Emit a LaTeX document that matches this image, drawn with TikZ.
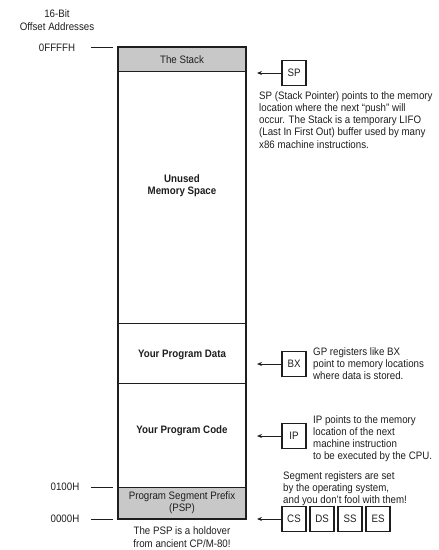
\documentclass[tikz,border=0pt]{standalone}
\usepackage{fontspec}
\setmainfont{Liberation Sans}[FakeStretch=0.9]
\usetikzlibrary{arrows.meta}
\definecolor{ink}{RGB}{30,30,30}
\definecolor{psgray}{RGB}{200,200,200}
\begin{document}
\begin{tikzpicture}[x=1pt,y=-1pt,
  every node/.style={text=ink, font=\fontsize{10.8}{12.3}\selectfont},
  seg/.style={draw=ink, line width=0.8pt, minimum width=128pt, inner sep=0pt, outer sep=0pt, rectangle},
  shaded/.style={seg, fill=psgray},
  reg/.style={draw=ink, line width=1.1pt, minimum width=24pt, minimum height=25pt, inner sep=0pt},
  ptr/.style={draw=ink, line width=0.8pt, -{Stealth[length=5pt,width=4pt]}},
  tick/.style={draw=ink, line width=0.6pt},
  note/.style={align=left, anchor=north west, inner sep=0pt},
  lbl/.style={inner sep=0pt, align=center},
  seglbl/.style={lbl, font=\fontsize{10.8}{12.3}\selectfont\bfseries}
]
\useasboundingbox (0,0) rectangle (439,550);
% memory segments
\node[shaded, minimum height=24pt] (stack) at (182,59) {};
\node[seg, minimum height=252pt] (unused) at (182,197) {};
\node[seg, minimum height=60pt] (data) at (182,353) {};
\node[seg, minimum height=104pt] (code) at (182,435) {};
\node[shaded, minimum height=32pt] (psp) at (182,503) {};
\draw[draw=ink, line width=1.5pt] (stack.north west) rectangle (psp.south east);
% segment labels
\node[lbl] (tstack) at (182,60) {The Stack};
\node[seglbl] (tunused) at (182,186) {Unused\\Memory Space};
\node[seglbl] (tdata) at (182,355) {Your Program Data};
\node[seglbl] (tcode) at (182,431) {Your Program Code};
\node[lbl] (tpsp) at (182,503) {Program Segment Prefix\\(PSP)};
\node[lbl] (tnote) at (182,537) {The PSP is a holdover\\from ancient CP/M-80!};
% addresses
\node[lbl] (hdr) at (57,20) {16-Bit\\Offset Addresses};
\node[lbl] (aF) at (57,48) {0FFFFH};
\node[lbl] (a1) at (65,487) {0100H};
\node[lbl] (a0) at (65,519) {0000H};
\coordinate (tFa) at (91,47);  \coordinate (tFb) at (113,47);
\coordinate (t1a) at (91,487); \coordinate (t1b) at (113,487);
\coordinate (t0a) at (91,519); \coordinate (t0b) at (113,519);
\draw[tick] (tFa) -- (tFb);
\draw[tick] (t1a) -- (t1b);
\draw[tick] (t0a) -- (t0b);
% registers
\node[reg] (sp) at (294,73) {SP};
\coordinate (spt) at (257,73);
\draw[ptr] (sp) -- (spt);
\node[note] (spn) at (259,91) {SP (Stack Pointer) points to the memory\\location where the next ``push'' will\\occur. The Stack is a temporary LIFO\\(Last In First Out) buffer used by many\\x86 machine instructions.};
\node[reg] (bx) at (294,364) {BX};
\coordinate (bxt) at (257,364);
\draw[ptr] (bx) -- (bxt);
\node[note] (bxn) at (313,347) {GP registers like BX\\point to memory locations\\where data is stored.};
\node[reg] (ip) at (294,436) {IP};
\coordinate (ipt) at (257,436);
\draw[ptr] (ip) -- (ipt);
\node[note] (ipn) at (313,415) {IP points to the memory\\location of the next\\machine instruction\\to be executed by the CPU.};
\node[note] (segn) at (283,471) {Segment registers are set\\by the operating system,\\and you don't fool with them!};
\node[reg] (cs) at (294,519) {CS};
\node[reg] (ds) at (322,519) {DS};
\node[reg] (ss) at (350,519) {SS};
\node[reg] (es) at (378,519) {ES};
\coordinate (cst) at (257,519);
\draw[ptr] (cs) -- (cst);
\end{tikzpicture}
\end{document}
